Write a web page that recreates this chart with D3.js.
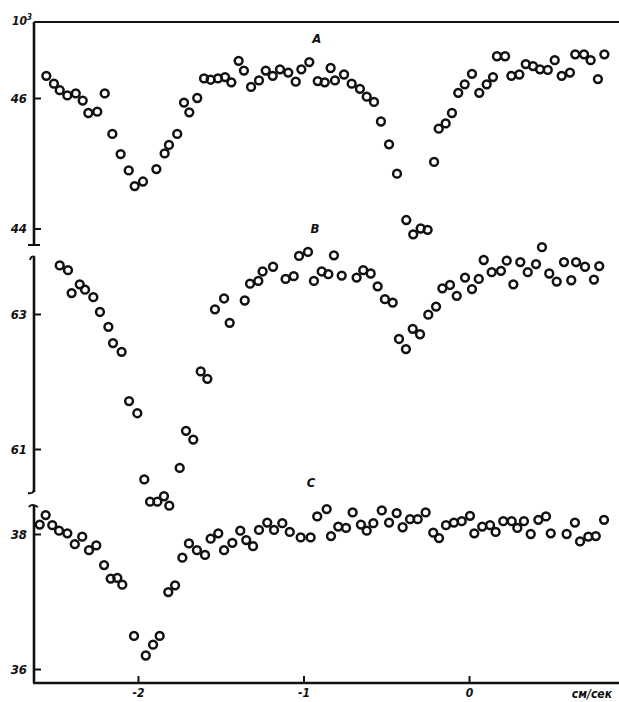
<!DOCTYPE html>
<html>
<head>
<meta charset="utf-8">
<script src="https://cdn.jsdelivr.net/npm/d3@7"></script>
<style>
  body { margin: 0; background: #fff; }
  text { font-family: "Liberation Sans Narrow", "DejaVu Sans Condensed", "Liberation Sans", sans-serif; font-weight: bold; font-style: italic; fill: #111; }
</style>
</head>
<body>
<script>
// velocity (cm/sec), counts (x10^3)
const spectrumA = [
  [-2.554, 46.34], [-2.508, 46.22], [-2.473, 46.12], [-2.427, 46.04], [-2.376, 46.07], [-2.334, 45.96],
  [-2.300, 45.77], [-2.246, 45.79], [-2.201, 46.07], [-2.155, 45.45], [-2.105, 45.14], [-2.056, 44.89],
  [-2.020, 44.65], [-1.970, 44.72], [-1.889, 44.91], [-1.839, 45.15], [-1.813, 45.28], [-1.763, 45.45],
  [-1.722, 45.93], [-1.690, 45.78], [-1.642, 46.00], [-1.601, 46.30], [-1.561, 46.28], [-1.517, 46.30],
  [-1.474, 46.32], [-1.436, 46.24], [-1.392, 46.57], [-1.360, 46.42], [-1.317, 46.17], [-1.269, 46.27],
  [-1.228, 46.42], [-1.186, 46.34], [-1.142, 46.44], [-1.092, 46.39], [-1.047, 46.25], [-1.013, 46.44],
  [-0.965, 46.55], [-0.914, 46.26], [-0.872, 46.24], [-0.836, 46.46], [-0.810, 46.27], [-0.755, 46.36],
  [-0.709, 46.22], [-0.659, 46.14], [-0.618, 46.02], [-0.574, 45.94], [-0.532, 45.64], [-0.483, 45.29],
  [-0.435, 44.84], [-0.379, 44.13], [-0.337, 43.91], [-0.292, 44.00], [-0.250, 43.98], [-0.211, 45.02],
  [-0.183, 45.53], [-0.141, 45.61], [-0.103, 45.77], [-0.065, 46.08], [-0.026, 46.21], [0.018, 46.37],
  [0.062, 46.08], [0.107, 46.21], [0.145, 46.32], [0.169, 46.64], [0.218, 46.64], [0.256, 46.34],
  [0.304, 46.36], [0.343, 46.52], [0.387, 46.49], [0.429, 46.44], [0.476, 46.43], [0.518, 46.58],
  [0.560, 46.34], [0.610, 46.39], [0.642, 46.67], [0.695, 46.67], [0.735, 46.58], [0.779, 46.29],
  [0.818, 46.67]
]
const spectrumB = [
  [-2.473, 63.72], [-2.423, 63.65], [-2.401, 63.31], [-2.352, 63.44], [-2.320, 63.36], [-2.270, 63.25],
  [-2.230, 63.03], [-2.179, 62.81], [-2.151, 62.57], [-2.099, 62.44], [-2.054, 61.71], [-2.004, 61.53],
  [-1.962, 60.55], [-1.927, 60.22], [-1.883, 60.22], [-1.843, 60.30], [-1.811, 60.16], [-1.748, 60.72],
  [-1.710, 61.27], [-1.666, 61.14], [-1.621, 62.15], [-1.581, 62.04], [-1.535, 63.07], [-1.480, 63.23],
  [-1.446, 62.87], [-1.355, 63.20], [-1.323, 63.45], [-1.273, 63.49], [-1.247, 63.63], [-1.184, 63.70],
  [-1.108, 63.52], [-1.059, 63.56], [-1.027, 63.86], [-0.973, 63.92], [-0.937, 63.49], [-0.890, 63.63],
  [-0.850, 63.59], [-0.816, 63.87], [-0.769, 63.57], [-0.679, 63.54], [-0.639, 63.65], [-0.594, 63.60],
  [-0.552, 63.41], [-0.508, 63.22], [-0.461, 63.17], [-0.423, 62.63], [-0.381, 62.48], [-0.340, 62.78],
  [-0.296, 62.70], [-0.246, 62.99], [-0.199, 63.11], [-0.161, 63.38], [-0.115, 63.43], [-0.074, 63.27],
  [-0.024, 63.54], [0.018, 63.37], [0.059, 63.52], [0.089, 63.80], [0.137, 63.62], [0.193, 63.64],
  [0.228, 63.79], [0.268, 63.44], [0.310, 63.77], [0.355, 63.62], [0.405, 63.74], [0.441, 63.99],
  [0.485, 63.60], [0.530, 63.48], [0.574, 63.77], [0.618, 63.50], [0.647, 63.77], [0.701, 63.70],
  [0.755, 63.51], [0.787, 63.71]
]
const spectrumC = [
  [-2.594, 38.14], [-2.558, 38.28], [-2.518, 38.13], [-2.477, 38.05], [-2.427, 38.01], [-2.382, 37.85],
  [-2.337, 37.96], [-2.296, 37.76], [-2.252, 37.83], [-2.205, 37.54], [-2.165, 37.34], [-2.125, 37.35],
  [-2.095, 37.25], [-2.024, 36.49], [-1.953, 36.20], [-1.909, 36.36], [-1.869, 36.49], [-1.817, 37.14],
  [-1.776, 37.24], [-1.732, 37.65], [-1.692, 37.86], [-1.644, 37.76], [-1.595, 37.69], [-1.561, 37.93],
  [-1.515, 38.01], [-1.480, 37.76], [-1.430, 37.87], [-1.382, 38.05], [-1.346, 37.91], [-1.305, 37.82],
  [-1.269, 38.06], [-1.219, 38.17], [-1.178, 38.06], [-1.128, 38.16], [-1.083, 38.03], [-1.017, 37.95],
  [-0.957, 37.95], [-0.917, 38.26], [-0.860, 38.37], [-0.834, 37.97], [-0.790, 38.11], [-0.743, 38.09],
  [-0.703, 38.32], [-0.653, 38.14], [-0.618, 38.05], [-0.578, 38.16], [-0.527, 38.35], [-0.483, 38.17],
  [-0.437, 38.31], [-0.401, 38.10], [-0.356, 38.22], [-0.310, 38.22], [-0.262, 38.32], [-0.216, 38.02],
  [-0.181, 37.94], [-0.139, 38.13], [-0.091, 38.17], [-0.044, 38.19], [0.006, 38.27], [0.032, 38.01],
  [0.080, 38.11], [0.127, 38.13], [0.161, 38.03], [0.207, 38.19], [0.258, 38.19], [0.292, 38.09],
  [0.332, 38.19], [0.373, 38.00], [0.419, 38.21], [0.465, 38.26], [0.494, 38.01], [0.590, 38.00],
  [0.640, 38.17], [0.671, 37.89], [0.721, 37.96], [0.766, 37.97], [0.816, 38.21]
]
const xTicks = [-2, -1, 0]
const xTickLabels = ['-2', '-1', '0']
const yTicksA = [44, 46]
const yTicksB = [61, 63]
const yTicksC = [36, 38]
const panelNames = ['А', 'В', 'С']
const panelLabelVel = [-0.92, -0.93, -0.955]
const xUnit = 'см/сек'

let size = { width: 619, height: 702 }
let frame = { left: 34, top: 22, bottom: 683, right: 619 }

let svg = d3.select('body')
  .append('svg')
  .attr('width', size.width)
  .attr('height', size.height)

let x = d3.scaleLinear().domain([-2, 0]).range([138, 469])

let panels = [
  { data: spectrumA, ticks: yTicksA, y: d3.scaleLinear().domain([44, 46]).range([228.5, 98]), seg: [frame.top, 245], labelY: 38 },
  { data: spectrumB, ticks: yTicksB, y: d3.scaleLinear().domain([61, 63]).range([449, 314]), seg: [257, 492], labelY: 228 },
  { data: spectrumC, ticks: yTicksC, y: d3.scaleLinear().domain([36, 38]).range([669, 534]), seg: [506, frame.bottom], labelY: 482 }
]

// frame: top line and bottom axis
svg.append('line')
  .attr('x1', frame.left).attr('x2', frame.right)
  .attr('y1', frame.top).attr('y2', frame.top)
  .attr('stroke', '#111').attr('stroke-width', 2.2)

let xAxis = d3.axisBottom(x)
  .tickValues(xTicks)
  .tickSizeInner(-7)
  .tickSizeOuter(0)
  .tickPadding(5)
  .tickFormat((d, i) => xTickLabels[i])

let gx = svg.append('g')
  .attr('transform', 'translate(0,' + frame.bottom + ')')
  .call(xAxis)
gx.select('.domain').remove()
gx.selectAll('line').attr('stroke', '#111').attr('stroke-width', 2)
gx.selectAll('text').style('font-size', '12px').attr('fill', '#111')

svg.append('line')
  .attr('x1', frame.left - 1).attr('x2', frame.right)
  .attr('y1', frame.bottom).attr('y2', frame.bottom)
  .attr('stroke', '#111').attr('stroke-width', 2.6)

svg.append('text')
  .attr('x', 612).attr('y', 698)
  .attr('text-anchor', 'end')
  .style('font-size', '12px')
  .text(xUnit)

// the three panels, each with its own broken piece of the y axis
panels.forEach((p, i) => {
  let yAxis = d3.axisLeft(p.y)
    .tickValues(p.ticks)
    .tickSizeInner(-7)
    .tickSizeOuter(0)
    .tickPadding(7)
    .tickFormat(d3.format('d'))

  let gy = svg.append('g')
    .attr('transform', 'translate(' + frame.left + ',0)')
    .call(yAxis)
  gy.select('.domain').remove()
  gy.selectAll('line').attr('stroke', '#111').attr('stroke-width', 2)
  gy.selectAll('text').style('font-size', '13px').attr('fill', '#111')

  svg.append('line')
    .attr('x1', frame.left).attr('x2', frame.left)
    .attr('y1', p.seg[0]).attr('y2', p.seg[1])
    .attr('stroke', '#111').attr('stroke-width', 2.6)

  svg.append('text')
    .attr('x', x(panelLabelVel[i]))
    .attr('y', p.labelY + 5)
    .attr('text-anchor', 'middle')
    .style('font-size', '13px')
    .text(panelNames[i])

  svg.append('g')
    .selectAll('circle')
    .data(p.data)
    .enter()
    .append('circle')
    .attr('cx', d => x(d[0]))
    .attr('cy', d => p.y(d[1]))
    .attr('r', 3.9)
    .attr('fill', 'none')
    .attr('stroke', '#111')
    .attr('stroke-width', 2.5)
})

// break marks on the y axis
let brk = svg.append('g')
  .attr('fill', 'none')
  .attr('stroke', '#111')
  .attr('stroke-width', 2)
brk.append('path').attr('d', 'M28,245 L40,245')
brk.append('path').attr('d', 'M30,260 Q31,255 35,257')
brk.append('path').attr('d', 'M34,489 Q34,494 28,493')
brk.append('path').attr('d', 'M29,507 Q31,503 38,507')

// 10^3 multiplier
let mult = svg.append('text')
  .attr('x', 12).attr('y', 25)
  .style('font-size', '12px')
mult.append('tspan').text('10')
mult.append('tspan').attr('dy', -5).style('font-size', '8px').text('3')
</script>
</body>
</html>
